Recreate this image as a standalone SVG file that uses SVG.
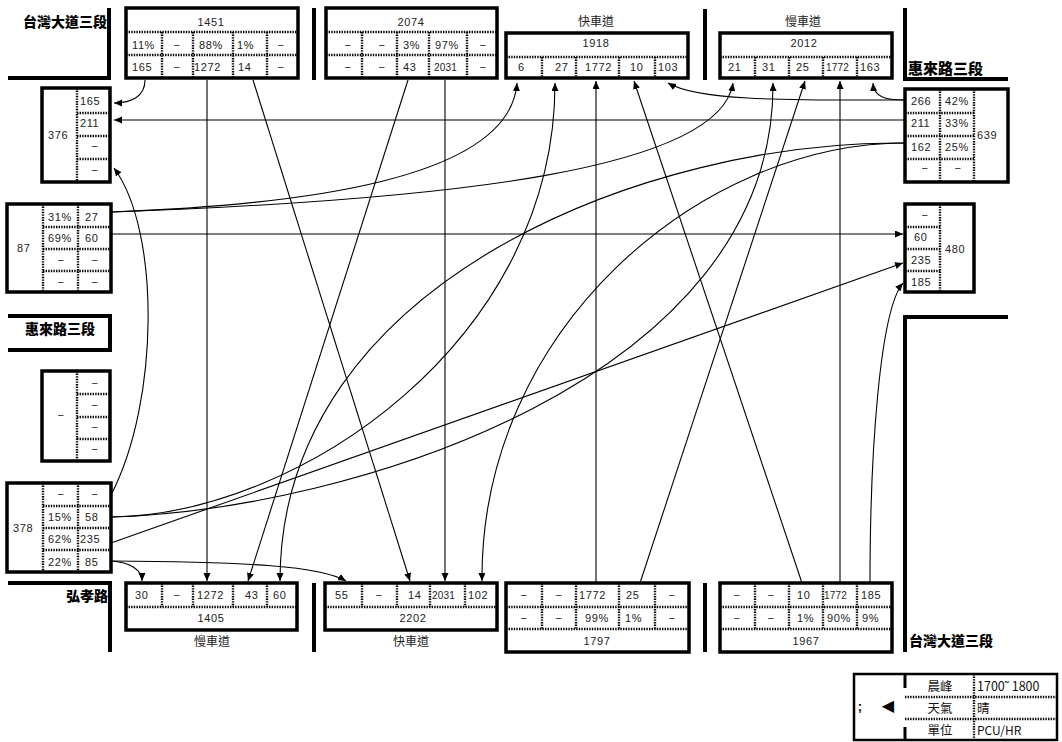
<svg xmlns="http://www.w3.org/2000/svg" width="1062" height="742" viewBox="0 0 1062 742">
<style>
.bg{fill:#fff}
.box{fill:#fff;stroke:#000;stroke-width:3.5}
.dot{stroke:#000;stroke-width:2.4;stroke-dasharray:1.4 1.2;fill:none}
.road{stroke:#000;stroke-width:4;fill:none}
.t{font-family:"Liberation Sans","Noto Sans CJK TC",sans-serif;font-size:11px;fill:#222;letter-spacing:0.6px}
.m{text-anchor:middle}
.e{text-anchor:end}
.s{font-size:10px;letter-spacing:0.2px}
.lbl{font-family:"Noto Sans CJK TC",sans-serif;font-weight:900;font-size:14px;fill:#000}
.cj{font-family:"Noto Sans CJK TC",sans-serif;font-size:12px;fill:#222}
.lg{font-family:"Noto Sans CJK TC",sans-serif;font-size:12.5px;fill:#111}
.c{stroke:#000;stroke-width:1.1;fill:none;marker-end:url(#a)}
</style>
<defs>
<marker id="a" markerUnits="userSpaceOnUse" markerWidth="10" markerHeight="8" refX="8" refY="3.5" orient="auto">
<path d="M0,0 L8,3.5 L0,7 z" fill="#000"/>
</marker>
</defs>
<rect class="bg" x="0" y="0" width="1062" height="742"/>

<g id="roads">
<path class="road" d="M8,78 H109 V8"/>
<path class="road" d="M314,8 V80"/>
<path class="road" d="M705,9 V80"/>
<path class="road" d="M905,8 V79 H1008"/>
<path class="road" d="M8,316 H110 V350 H8"/>
<path class="road" d="M8,583 H110 V652"/>
<path class="road" d="M314,583 V652"/>
<path class="road" d="M705,583 V652"/>
<path class="road" d="M1008,317 H905 V652"/>
<text class="lbl e" x="107" y="27">台灣大道三段</text>
<text class="lbl" x="908" y="74" style="font-size:15px">惠來路三段</text>
<text class="lbl" x="25" y="334">惠來路三段</text>
<text class="lbl e" x="108" y="601">弘孝路</text>
<text class="lbl" x="909" y="646">台灣大道三段</text>
<text class="cj m" x="596" y="26">快車道</text>
<text class="cj m" x="803" y="26">慢車道</text>
<text class="cj m" x="212" y="646">慢車道</text>
<text class="cj m" x="411" y="646">快車道</text>
</g>

<g id="n1451">
<rect class="box" x="126" y="8" width="172" height="70"/>
<path class="dot" d="M126,32 H298 M126,55 H298 M162,32 V78 M193,32 V78 M233,32 V78 M267,32 V78"/>
<text class="t m" x="211" y="26">1451</text>
<text class="t" x="132" y="49">11%</text><text class="t m" x="177" y="49">−</text><text class="t" x="199" y="49">88%</text><text class="t" x="237" y="49">1%</text><text class="t m" x="281" y="49">−</text>
<text class="t" x="132" y="71">165</text><text class="t m" x="177" y="71">−</text><text class="t" x="194" y="71">1272</text><text class="t" x="238" y="71">14</text><text class="t m" x="281" y="71">−</text>
</g>

<g id="n2074">
<rect class="box" x="326" y="8" width="171" height="70"/>
<path class="dot" d="M326,32 H497 M326,55 H497 M362,32 V78 M397,32 V78 M429,32 V78 M467,32 V78"/>
<text class="t m" x="411" y="26">2074</text>
<text class="t m" x="348" y="49">−</text><text class="t m" x="382" y="49">−</text><text class="t" x="403" y="49">3%</text><text class="t" x="435" y="49">97%</text><text class="t m" x="483" y="49">−</text>
<text class="t m" x="348" y="71">−</text><text class="t m" x="382" y="71">−</text><text class="t" x="403" y="71">43</text><text class="t s" x="434" y="71">2031</text><text class="t m" x="483" y="71">−</text>
</g>

<g id="n1918">
<rect class="box" x="506" y="33" width="182" height="45"/>
<path class="dot" d="M506,57 H688 M542,57 V78 M576,57 V78 M619,57 V78 M655,57 V78"/>
<text class="t m" x="596" y="47">1918</text>
<text class="t" x="518" y="71">6</text><text class="t" x="555" y="71">27</text><text class="t" x="585" y="71">1772</text><text class="t" x="630" y="71">10</text><text class="t" x="658" y="71">103</text>
</g>

<g id="n2012">
<rect class="box" x="720" y="33" width="172" height="45"/>
<path class="dot" d="M720,57 H892 M755,57 V78 M789,57 V78 M823,57 V78 M857,57 V78"/>
<text class="t m" x="804" y="47">2012</text>
<text class="t" x="728" y="71">21</text><text class="t" x="762" y="71">31</text><text class="t" x="796" y="71">25</text><text class="t s" x="826" y="71">1772</text><text class="t" x="860" y="71">163</text>
</g>

<g id="n376">
<rect class="box" x="42" y="88" width="68" height="94"/>
<path class="dot" d="M77,88 V182 M77,113 H110 M77,136 H110 M77,159 H110"/>
<text class="t" x="48" y="139">376</text>
<text class="t" x="80" y="105">165</text><text class="t" x="80" y="127">211</text><text class="t m" x="95" y="150">−</text><text class="t m" x="95" y="174">−</text>
</g>

<g id="n87">
<rect class="box" x="7" y="204" width="104" height="88"/>
<path class="dot" d="M43,204 V292 M78,204 V292 M43,227 H111 M43,249 H111 M43,271 H111"/>
<text class="t" x="17" y="252">87</text>
<text class="t" x="48" y="221">31%</text><text class="t" x="85" y="221">27</text>
<text class="t" x="48" y="242">69%</text><text class="t" x="85" y="242">60</text>
<text class="t m" x="61" y="264">−</text><text class="t m" x="95" y="264">−</text>
<text class="t m" x="61" y="286">−</text><text class="t m" x="95" y="286">−</text>
</g>

<g id="nwest2">
<rect class="box" x="42" y="371" width="68" height="90"/>
<path class="dot" d="M77,371 V461 M77,394 H110 M77,417 H110 M77,439 H110"/>
<text class="t m" x="61" y="419">−</text>
<text class="t m" x="95" y="387">−</text><text class="t m" x="95" y="409">−</text><text class="t m" x="95" y="431">−</text><text class="t m" x="95" y="453">−</text>
</g>

<g id="n378">
<rect class="box" x="7" y="483" width="104" height="89"/>
<path class="dot" d="M43,483 V572 M78,483 V572 M43,506 H111 M43,528 H111 M43,550 H111"/>
<text class="t" x="13" y="532">378</text>
<text class="t m" x="61" y="498">−</text><text class="t m" x="95" y="498">−</text>
<text class="t" x="48" y="521">15%</text><text class="t" x="85" y="521">58</text>
<text class="t" x="48" y="543">62%</text><text class="t" x="80" y="543">235</text>
<text class="t" x="48" y="566">22%</text><text class="t" x="85" y="566">85</text>
</g>

<g id="n639">
<rect class="box" x="905" y="89" width="103" height="93"/>
<path class="dot" d="M940,89 V182 M974,89 V182 M905,113 H974 M905,136 H974 M905,159 H974"/>
<text class="t" x="911" y="105">266</text><text class="t" x="945" y="105">42%</text>
<text class="t" x="911" y="127">211</text><text class="t" x="945" y="127">33%</text>
<text class="t" x="911" y="151">162</text><text class="t" x="945" y="151">25%</text>
<text class="t m" x="925" y="172">−</text><text class="t m" x="958" y="172">−</text>
<text class="t" x="977" y="139">639</text>
</g>

<g id="n480">
<rect class="box" x="905" y="204" width="69" height="88"/>
<path class="dot" d="M940,204 V292 M905,227 H940 M905,249 H940 M905,271 H940"/>
<text class="t m" x="925" y="219">−</text>
<text class="t" x="914" y="241">60</text><text class="t" x="911" y="264">235</text><text class="t" x="911" y="286">185</text>
<text class="t" x="945" y="253">480</text>
</g>

<g id="n1405">
<rect class="box" x="126" y="583" width="171" height="47"/>
<path class="dot" d="M126,607 H297 M162,583 V607 M193,583 V607 M233,583 V607 M267,583 V607"/>
<text class="t" x="135" y="599">30</text><text class="t m" x="177" y="599">−</text><text class="t" x="197" y="599">1272</text><text class="t" x="245" y="599">43</text><text class="t" x="273" y="599">60</text>
<text class="t m" x="211" y="622">1405</text>
</g>

<g id="n2202">
<rect class="box" x="325" y="583" width="172" height="47"/>
<path class="dot" d="M325,607 H497 M362,583 V607 M397,583 V607 M430,583 V607 M465,583 V607"/>
<text class="t" x="335" y="599">55</text><text class="t m" x="379" y="599">−</text><text class="t" x="408" y="599">14</text><text class="t s" x="432" y="599">2031</text><text class="t" x="468" y="599">102</text>
<text class="t m" x="413" y="622">2202</text>
</g>

<g id="n1797">
<rect class="box" x="506" y="583" width="183" height="69"/>
<path class="dot" d="M506,607 H689 M506,629 H689 M542,583 V629 M576,583 V629 M619,583 V629 M655,583 V629"/>
<text class="t m" x="524" y="599">−</text><text class="t m" x="559" y="599">−</text><text class="t" x="579" y="599">1772</text><text class="t" x="626" y="599">25</text><text class="t m" x="672" y="599">−</text>
<text class="t m" x="524" y="622">−</text><text class="t m" x="559" y="622">−</text><text class="t" x="585" y="622">99%</text><text class="t" x="625" y="622">1%</text><text class="t m" x="672" y="622">−</text>
<text class="t m" x="597" y="645">1797</text>
</g>

<g id="n1967">
<rect class="box" x="720" y="583" width="172" height="69"/>
<path class="dot" d="M720,607 H892 M720,629 H892 M755,583 V629 M789,583 V629 M823,583 V629 M857,583 V629"/>
<text class="t m" x="737" y="599">−</text><text class="t m" x="771" y="599">−</text><text class="t" x="797" y="599">10</text><text class="t s" x="824" y="599">1772</text><text class="t" x="861" y="599">185</text>
<text class="t m" x="737" y="622">−</text><text class="t m" x="771" y="622">−</text><text class="t" x="797" y="622">1%</text><text class="t" x="827" y="622">90%</text><text class="t" x="862" y="622">9%</text>
<text class="t m" x="806" y="645">1967</text>
</g>

<g id="legend">
<rect x="854" y="674" width="203" height="66" fill="#fff" stroke="#000" stroke-width="2.5"/>
<path class="road" style="stroke-width:3" d="M905,674 V688 M905,727 V740"/>
<path class="dot" d="M974,674 V740 M905,697 H1057 M905,719 H1057"/>
<text class="lg m" x="940" y="691">晨峰</text>
<text class="lg m" x="940" y="713">天氣</text>
<text class="lg m" x="940" y="735">單位</text>
<text class="lg" x="977" y="691">1700˜ 1800</text>
<text class="lg" x="977" y="713">晴</text>
<text class="lg" x="977" y="735" style="font-size:12px">PCU/HR</text>
<text x="888" y="711" class="m" style="font-family:'DejaVu Sans',sans-serif;font-size:16px;fill:#000">◀</text>
<text x="860" y="711" class="m" style="font-family:'Liberation Sans',sans-serif;font-size:13px;font-weight:bold;fill:#000">;</text>
</g>

<g id="connectors">
<path class="c" d="M145,80 C145,96 132,103 114,103"/>
<path class="c" d="M207,80 V581"/>
<path class="c" d="M253,80 L410,581"/>
<path class="c" d="M408,80 L248,581"/>
<path class="c" d="M445,80 V581"/>
<path class="c" d="M905,120 H114"/>
<path class="c" d="M905,100 C800,100 700,102 668,83"/>
<path class="c" d="M905,100 C885,100 874,97 873,83"/>
<path class="c" d="M111,212 C300,205 510,180 517,83"/>
<path class="c" d="M111,212 C450,200 720,170 733,83"/>
<path class="c" d="M111,234 H903"/>
<path class="c" d="M905,143 C650,140 280,280 280,581"/>
<path class="c" d="M905,143 C700,143 480,330 482,581"/>
<path class="c" d="M111,495 C160,400 160,230 114,168"/>
<path class="c" d="M111,517 C300,515 555,340 555,83"/>
<path class="c" d="M111,517 C350,510 775,380 773,83"/>
<path class="c" d="M111,543 L903,263"/>
<path class="c" d="M111,561 C130,562 142,570 142,581"/>
<path class="c" d="M111,561 C250,562 320,566 346,581"/>
<path class="c" d="M596,583 V81"/>
<path class="c" d="M640,583 L805,81"/>
<path class="c" d="M802,583 L634,81"/>
<path class="c" d="M840,583 V81"/>
<path class="c" d="M870,583 C870,450 880,310 903,283"/>
</g>
</svg>
